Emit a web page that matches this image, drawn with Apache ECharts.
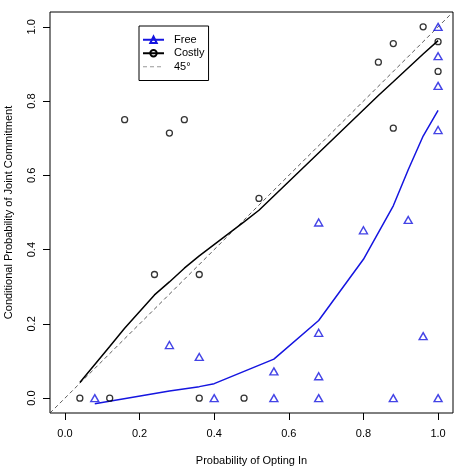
<!DOCTYPE html>
<html>
<head>
<meta charset="utf-8">
<script src="https://cdn.jsdelivr.net/npm/echarts@6/dist/echarts.min.js"></script>
<style>
  html, body { margin: 0; padding: 0; background: #fff; }
  #main { width: 456px; height: 471px; }
</style>
</head>
<body>
<div id="main"></div>
<script>
// tick positions on both axes
var tickVals = [0, 0.2, 0.4, 0.6, 0.8, 1.0];

// observed points
var freePts = [[0.08, 0], [0.28, 0.143], [0.36, 0.111], [0.40, 0], [0.56, 0.072], [0.56, 0],
    [0.68, 0.473], [0.68, 0.176], [0.68, 0.059], [0.68, 0], [0.80, 0.452], [0.88, 0],
    [0.92, 0.48], [0.96, 0.167], [1.0, 1.0], [1.0, 0.921], [1.0, 0.841], [1.0, 0.722], [1.0, 0]];
var costlyPts = [[0.04, 0], [0.12, 0], [0.16, 0.75], [0.24, 0.333], [0.28, 0.714], [0.32, 0.75],
    [0.36, 0.333], [0.36, 0], [0.48, 0], [0.52, 0.538], [0.84, 0.905], [0.88, 0.955],
    [0.88, 0.727], [0.96, 1.0], [1.0, 0.96], [1.0, 0.88]];

// fitted curves
var freeFitX = [0.08, 0.28, 0.36, 0.40, 0.56, 0.68, 0.80, 0.88, 0.92, 0.96, 1.0];
var freeFitY = [-0.015, 0.019, 0.031, 0.039, 0.105, 0.209, 0.374, 0.518, 0.615, 0.706, 0.775];
var costlyFitX = [0.04, 0.12, 0.16, 0.24, 0.28, 0.32, 0.36, 0.48, 0.52, 0.84, 0.88, 0.96, 1.0];
var costlyFitY = [0.042, 0.139, 0.188, 0.278, 0.313, 0.350, 0.383, 0.475, 0.506, 0.815, 0.852, 0.927, 0.963];

// 45 degree reference line ends
var diagLine = [[-0.04, -0.04], [1.04, 1.04]];

function zip(xs, ys) {
    var out = [];
    for (var i = 0; i < xs.length; i++) {
        out.push([xs[i], ys[i]]);
    }
    return out;
}

var font = 'Liberation Sans, Arial, Helvetica, sans-serif';
var blue = '#1515e0';

var myChart = echarts.init(document.getElementById('main'));

var axisCommon = {
    type: 'value',
    min: -0.04,
    max: 1.04,
    splitLine: { show: false },
    axisLine: { show: false, onZero: false },
    axisTick: { show: true, inside: false, length: 7, customValues: tickVals,
        lineStyle: { color: '#000', width: 1 } },
    nameLocation: 'middle',
    nameTextStyle: { color: '#000', fontSize: 11, fontFamily: font }
};

var option = {
    animation: false,
    backgroundColor: '#fff',
    grid: {
        left: 50, right: 3, top: 12, bottom: 58,
        outerBoundsMode: 'none',
        containLabel: false,
        show: true, borderColor: '#000', borderWidth: 1
    },
    legend: {
        orient: 'vertical',
        left: 139, top: 26,
        padding: [7, 4, 7, 3],
        itemWidth: 21, itemHeight: 8, itemGap: 0,
        borderColor: '#000', borderWidth: 1, borderRadius: 0,
        backgroundColor: '#fff',
        data: ['Free', 'Costly',
            { name: '45°', itemStyle: { color: 'transparent', borderColor: 'transparent', borderWidth: 0 },
              lineStyle: { color: '#999', width: 1 } }],
        textStyle: { color: '#000', fontSize: 11, fontFamily: font, lineHeight: 13.5, padding: [0, 0, 0, 5] }
    }
};

option.xAxis = Object.assign({}, axisCommon, {
    name: 'Probability of Opting In',
    nameGap: 42,
    axisLabel: { customValues: tickVals, margin: 15, color: '#000', fontSize: 11, fontFamily: font,
        formatter: function (v) { return v.toFixed(1); } }
});
option.yAxis = Object.assign({}, axisCommon, {
    name: 'Conditional Probability of Joint Commitment',
    nameGap: 36,
    axisLabel: { customValues: tickVals, margin: 13, rotate: 90, color: '#000', fontSize: 11, fontFamily: font,
        formatter: function (v) { return v.toFixed(1); } }
});

option.series = [
    {
        name: 'Free',
        type: 'line',
        data: zip(freeFitX, freeFitY),
        symbol: 'triangle',
        symbolSize: [8, 7],
        showSymbol: false,
        lineStyle: { color: blue, width: 1.5 },
        itemStyle: { color: 'transparent', borderColor: blue, borderWidth: 1.4 },
        z: 3
    },
    {
        name: 'Costly',
        type: 'line',
        data: zip(costlyFitX, costlyFitY),
        symbol: 'circle',
        symbolSize: 6,
        showSymbol: false,
        lineStyle: { color: '#000', width: 1.5 },
        itemStyle: { color: 'transparent', borderColor: '#000', borderWidth: 1.3 },
        z: 3
    },
    {
        name: '45°',
        type: 'line',
        data: diagLine,
        symbol: 'none',
        lineStyle: { color: '#333', width: 0.8, type: [4, 3] },
        z: 2
    },
    {
        name: 'Free',
        type: 'scatter',
        data: freePts,
        symbol: 'triangle',
        symbolSize: [8, 7],
        itemStyle: { color: 'transparent', borderColor: blue, borderWidth: 1.4 },
        z: 4
    },
    {
        name: 'Costly',
        type: 'scatter',
        data: costlyPts,
        symbol: 'circle',
        symbolSize: 6,
        itemStyle: { color: 'transparent', borderColor: '#000', borderWidth: 1.3 },
        z: 4
    }
];

myChart.setOption(option);
</script>
</body>
</html>
